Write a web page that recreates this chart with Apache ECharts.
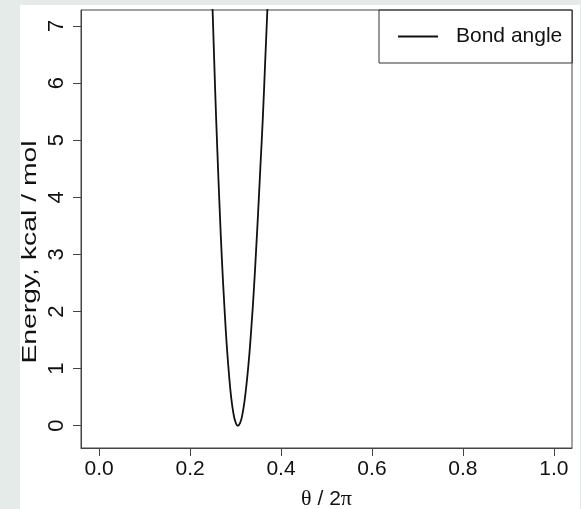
<!DOCTYPE html>
<html>
<head>
<meta charset="utf-8">
<script src="https://cdn.jsdelivr.net/npm/echarts@6/dist/echarts.min.js"></script>
<style>
  html, body { margin: 0; padding: 0; background: #e5ebe8; }
  #panel { position: absolute; left: 20px; top: 5px; width: 560px; height: 504px; background: #fff; }
  #main { position: absolute; left: 0; top: 0; width: 581px; height: 509px; }
</style>
</head>
<body>
<div id="panel"></div>
<div id="main"></div>
<script>
// θ / 2π
const theta = [0.245, 0.25, 0.255, 0.26, 0.265, 0.27, 0.275, 0.28, 0.285, 0.29, 0.295, 0.30, 0.305,
               0.31, 0.315, 0.32, 0.325, 0.33, 0.335, 0.34, 0.345, 0.35, 0.355, 0.36, 0.365, 0.37, 0.375];
// energy, kcal / mol
const energy = [8.3, 7.15, 5.9, 4.8, 3.8, 2.9, 2.15, 1.48, 0.95, 0.52, 0.23, 0.06, 0.0,
                0.05, 0.2, 0.45, 0.8, 1.22, 1.75, 2.35, 3.05, 3.8, 4.6, 5.4, 6.35, 7.3, 8.3];
const xTicks = [0, 0.2, 0.4, 0.6, 0.8, 1.0];
const yTicks = [0, 1, 2, 3, 4, 5, 6, 7];

const font = '"Liberation Sans", Arial, sans-serif';
const chart = echarts.init(document.getElementById('main'));

chart.setOption({
  animation: false,
  textStyle: { fontFamily: font },
  grid: {
    left: 81, right: 9, top: 10, bottom: 61, outerBoundsMode: 'none',
    show: true, borderColor: '#444', borderWidth: 1
  },
  legend: {
    left: 379, top: 10,
    padding: [16, 10, 16, 19],
    borderColor: '#333', borderWidth: 1,
    icon: 'rect', itemWidth: 40, itemHeight: 2,
    itemStyle: { color: '#111' },
    textStyle: { fontSize: 21, color: '#111', fontFamily: font, padding: [0, 0, 0, 13] },
    data: ['Bond angle']
  },
  // y title: rotated text in the reference is drawn wider along its baseline
  graphic: [{
    type: 'text', x: 30, y: 252, rotation: Math.PI / 2, scaleX: 1.35,
    style: {
      text: 'Energy, kcal / mol', fontSize: 21, fontFamily: font, fill: '#111',
      align: 'center', verticalAlign: 'middle'
    }
  }],
  xAxis: {
    type: 'value', min: -0.04, max: 1.04,
    name: '{g|θ} / 2{g|π}', nameLocation: 'middle', nameGap: 40,
    nameTextStyle: { fontSize: 21, color: '#111', rich: { g: { fontFamily: '"Liberation Serif", serif', fontSize: 22 } } },
    axisLine: { show: true, onZero: false, lineStyle: { color: '#444' } },
    axisTick: { show: true, length: 8, customValues: xTicks, lineStyle: { color: '#444' } },
    axisLabel: { fontSize: 21, color: '#111', margin: 11, customValues: xTicks, formatter: v => v.toFixed(1) },
    splitLine: { show: false }
  },
  yAxis: {
    type: 'value', min: -0.39, max: 7.28,
    axisLine: { show: true, onZero: false, lineStyle: { color: '#444' } },
    axisTick: { show: true, length: 8, customValues: yTicks, lineStyle: { color: '#444' } },
    axisLabel: { fontSize: 22, color: '#111', margin: 13, rotate: 90, customValues: yTicks },
    splitLine: { show: false }
  },
  series: [{
    name: 'Bond angle',
    type: 'line',
    data: theta.map((t, i) => [t, energy[i]]),
    smooth: true,
    symbol: 'none',
    clip: true,
    lineStyle: { color: '#111', width: 1.8 }
  }]
});
</script>
</body>
</html>
